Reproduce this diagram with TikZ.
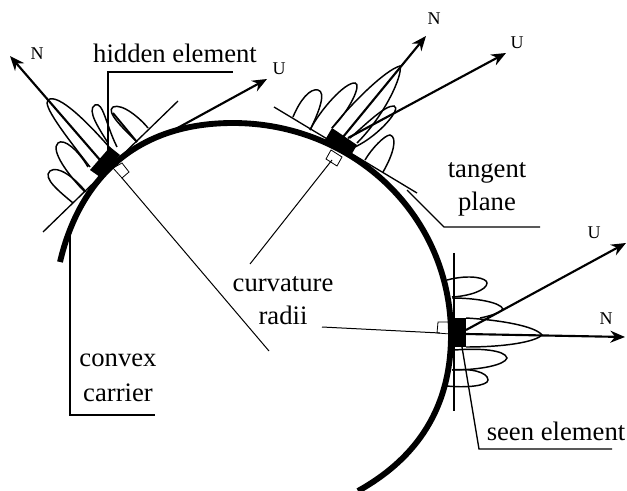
\documentclass[tikz,border=0pt]{standalone}
\usepackage{fontspec}
\setmainfont{Liberation Serif}
\usetikzlibrary{arrows.meta}
\tikzset{
  px/.style={x=0.75pt,y=-0.75pt},
  lab/.style={inner sep=0pt,font=\fontsize{20}{20}\selectfont},
  small/.style={inner sep=0pt,font=\fontsize{13.5}{14}\selectfont},
  thin line/.style={line width=0.75pt},
  lobe/.style={line width=1.1pt},
  leader/.style={line width=1pt},
  vec/.style={line width=1.6pt,-{Stealth[length=11pt,width=9pt]}},
  carrier/.style={line width=4.4pt},
  elem/.style={fill=black,draw=none},
  mark90/.style={line width=0.6pt,draw=black,fill=none}
}
\begin{document}
\begin{tikzpicture}[px]
\useasboundingbox (0,0) rectangle (627,491);
% carrier
\draw[carrier] (60,262) .. controls (78,185) and (130,123) .. (233,123) .. controls (353,123) and (451,215) .. (451,335) .. controls (451,415) and (410,462) .. (358,491);
% hidden element
\draw[leader] (43,232) -- (178,101);
\draw[mark90] (113,168) -- (122,178) -- (129,172) -- (122,163) -- cycle;
\draw[thin line] (122,178) -- (269,351);
\draw[leader] (108,150) -- (108,72) -- (233,72);
\draw[lobe] (90,167) .. controls (65,135) and (42,105) .. (48,100) .. controls (58,92) and (90,125) .. (110,148);
\draw[lobe] (85,192) .. controls (68,175) and (50,150) .. (58,143) .. controls (64,138) and (78,150) .. (88,167);
\draw[lobe] (73,203) .. controls (60,192) and (42,178) .. (50,171) .. controls (58,165) and (75,178) .. (86,192);
\draw[lobe] (108,143) .. controls (100,130) and (86,110) .. (95,105) .. controls (103,101) and (106,125) .. (117,147);
\draw[lobe] (137,142) .. controls (125,130) and (105,112) .. (113,107) .. controls (122,103) and (140,118) .. (148,128);
\draw[line width=1.4pt] (137,142) -- (113,113);
\path[elem] (90,170) -- (100,177) -- (120,155) -- (110,147) -- cycle;
\draw[vec] (100,160) -- (10,56);
\draw[vec] (172,131) -- (267,79);
% top element
\draw[leader] (274,107) -- (417,193);
\draw[mark90] (326,159) -- (331,150) -- (342,157) -- (337,166) -- cycle;
\draw[thin line] (332,160) -- (250,264);
\draw[leader] (407,190) -- (444,227) -- (540,227);
\draw[lobe] (293,117) .. controls (300,100) and (310,88) .. (318,90) .. controls (326,92) and (320,110) .. (310,130);
\draw[lobe] (310,130) .. controls (320,110) and (345,82) .. (355,83) .. controls (362,84) and (350,110) .. (332,128);
\draw[lobe] (332,128) .. controls (350,105) and (385,70) .. (400,66) .. controls (403,75) and (385,115) .. (357,143);
\draw[lobe] (350,138) .. controls (365,125) and (385,105) .. (394,106) .. controls (402,108) and (380,135) .. (355,147);
\draw[lobe] (365,160) .. controls (372,148) and (385,135) .. (390,135) .. controls (398,137) and (393,155) .. (383,172);
\path[elem] (325,140) -- (332,128) -- (357,145) -- (350,157) -- cycle;
\draw[vec] (343,137) -- (426,36);
\draw[vec] (348,138) -- (506,53);
% right element
\draw[leader] (454,253) -- (454,411);
\draw[mark90] (437,333) -- (438,322) -- (450,322) -- (450,334) -- cycle;
\draw[thin line] (322,327) -- (440,333);
\draw[leader] (462,347) -- (479,449) -- (612,449);
\draw[lobe] (447,280) .. controls (470,274) and (487,278) .. (487,283) .. controls (487,290) and (470,296) .. (452,297);
\draw[lobe] (452,298) .. controls (475,298) and (500,302) .. (503,309) .. controls (500,313) and (490,316) .. (480,318);
\draw[lobe] (466,318) .. controls (500,320) and (535,326) .. (542,335) .. controls (535,342) and (505,347) .. (466,347);
\draw[lobe] (455,350) .. controls (480,348) and (505,350) .. (507,358) .. controls (505,365) and (480,370) .. (452,370);
\draw[lobe] (452,370) .. controls (470,368) and (488,372) .. (488,380) .. controls (488,386) and (465,388) .. (447,386);
\path[elem] (448,318) rectangle (466,347);
\draw[vec] (466,334) -- (625,337);
\draw[vec] (466,330) -- (626,243);
% carrier leader
\draw[leader] (70,232) -- (70,415) -- (155,415);
% labels
\node[lab] (hid) at (175,53) {hidden element};
\node[small] (n1) at (37,54) {N};
\node[small] (u1) at (279,69) {U};
\node[small] (n2) at (434,19) {N};
\node[small] (u2) at (517,43) {U};
\node[small] (u3) at (594,233) {U};
\node[small] (n3) at (606,319) {N};
\node[lab] (tan) at (487,173) {tangent};
\node[lab] (pla) at (487,204) {plane};
\node[lab] (cur) at (283,284) {curvature};
\node[lab] (rad) at (283,315) {radii};
\node[lab] (con) at (118,360) {convex};
\node[lab] (car) at (118,393) {carrier};
\node[lab] (see) at (556,431) {seen element};
\end{tikzpicture}
\end{document}
